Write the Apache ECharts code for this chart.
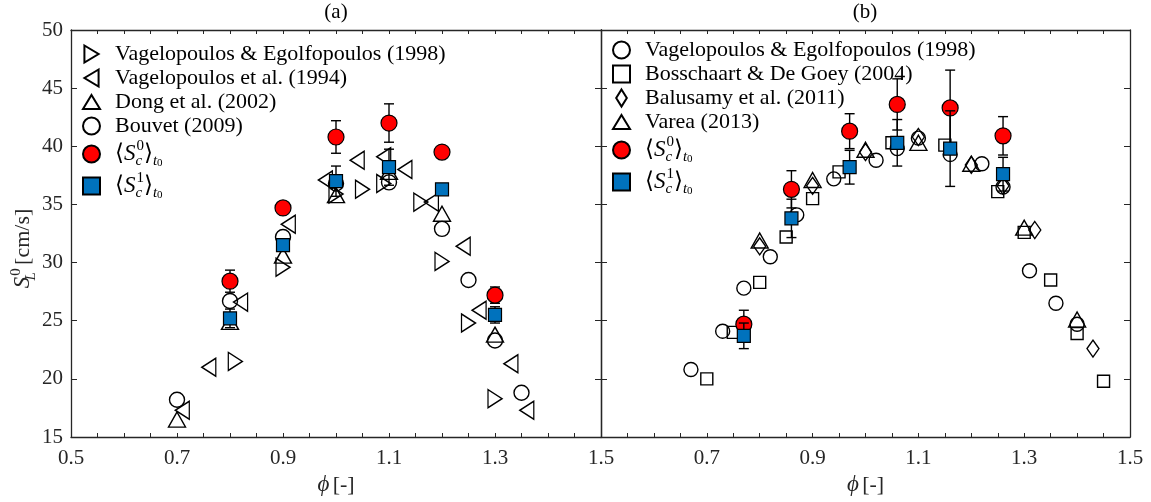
<!DOCTYPE html>
<html>
<head>
<meta charset="utf-8">
<script src="https://cdn.jsdelivr.net/npm/echarts@6/dist/echarts.min.js"></script>
<style>
html,body{margin:0;padding:0;background:#fff;}
#c{width:1151px;height:502px;}
</style>
</head>
<body>
<div id="c"></div>
<script>
// ---------- DATA ----------
const xTickLabels = ['0.5','0.7','0.9','1.1','1.3','1.5'];
const yTicks = [15,20,25,30,35,40,45,50];

// Panel (a)
const a_VE98 = [[0.81,21.5],[0.90,29.6],[1.00,35.9],[1.05,36.3],[1.09,36.8],[1.16,35.2],[1.20,30.1],[1.25,24.8],[1.30,18.3]];
const a_V94 = [[0.71,17.3],[0.76,21.0],[0.82,26.6],[0.91,33.3],[0.98,37.1],[1.04,38.8],[1.09,39.1],[1.13,38.0],[1.18,35.2],[1.24,31.4],[1.27,25.9],[1.33,21.3],[1.36,17.3]];
const a_Dong = [[0.70,16.5],[0.80,24.9],[0.90,30.6],[1.00,35.8],[1.10,37.8],[1.20,34.2],[1.30,23.8]];
const a_Bouvet = [[0.70,18.2],[0.80,26.7],[0.90,32.2],[1.00,36.8],[1.10,36.9],[1.20,32.9],[1.25,28.5],[1.30,23.3],[1.35,18.8]];
const a_S0 = [[0.8,28.4],[0.9,34.7],[1.0,40.8],[1.1,42.0],[1.2,39.5],[1.3,27.2]];
const a_S0err = [0.95,0.3,1.4,1.65,0.25,0.7];
const a_S1 = [[0.8,25.2],[0.9,31.5],[1.0,37.0],[1.1,38.2],[1.2,36.3],[1.3,25.5]];
const a_S1err = [0.8,0.3,1.3,1.55,0.2,0.7];

// Panel (b)
const b_VE98 = [[0.67,20.8],[0.73,24.1],[0.77,27.8],[0.82,30.5],[0.87,34.1],[0.94,37.2],[1.02,38.8],[1.06,39.8],[1.10,40.7],[1.16,39.3],[1.22,38.5],[1.26,36.5],[1.31,29.3],[1.36,26.5],[1.40,24.7]];
const b_BD = [[0.70,20.0],[0.75,24.0],[0.80,28.3],[0.85,32.2],[0.90,35.5],[0.95,37.8],[1.05,40.3],[1.15,40.1],[1.25,36.1],[1.30,32.6],[1.35,28.5],[1.40,23.9],[1.45,19.8]];
const b_Bal = [[0.80,31.4],[0.90,36.6],[1.00,39.5],[1.10,40.8],[1.20,38.4],[1.26,36.6],[1.32,32.8],[1.43,22.6]];
const b_Varea = [[0.80,31.9],[0.90,37.1],[1.00,39.7],[1.10,40.3],[1.20,38.5],[1.30,33.0],[1.40,25.1]];
const b_S0 = [[0.77,24.7],[0.86,36.3],[0.97,41.3],[1.06,43.6],[1.16,43.3],[1.26,40.9]];
const b_S0err = [1.2,1.6,1.5,2.2,3.25,1.65];
const b_S1 = [[0.77,23.7],[0.86,33.8],[0.97,38.2],[1.06,40.3],[1.16,39.8],[1.26,37.6]];
const b_S1err = [1.1,1.65,1.45,2.0,3.25,1.45];

const legendA = ['a_VE98','a_V94','a_Dong','a_Bouvet','a_S0','a_S1'];
const legendB = ['b_VE98','b_BD','b_Bal','b_Varea','b_S0','b_S1'];
const labels = {
  a_VE98:'Vagelopoulos & Egolfopoulos (1998)', a_V94:'Vagelopoulos et al. (1994)',
  a_Dong:'Dong et al. (2002)', a_Bouvet:'Bouvet (2009)',
  b_VE98:'Vagelopoulos & Egolfopoulos (1998)', b_BD:'Bosschaart & De Goey (2004)',
  b_Bal:'Balusamy et al. (2011)', b_Varea:'Varea (2013)'
};

// ---------- STYLE ----------
const FONT = '"Liberation Serif", "DejaVu Serif", serif';
const AX = '#262626';
const RIGHT_TRI = 'path://M0,0L10,6L0,12Z';
const LEFT_TRI = 'path://M10,0L0,6L10,12Z';
const UP_TRI = 'path://M6,0L12,10L0,10Z';
const DIAMOND = 'path://M5,0L10,8L5,16L0,8Z';
const hollow = {color:'rgba(0,0,0,0)', borderColor:'#000', borderWidth:1.4, opacity:1};

const mathRich = {
  n:{fontFamily:FONT,fontSize:22,color:'#000',padding:[0,0,0,10],lineHeight:25},
  n0:{fontFamily:FONT,fontSize:22,color:'#000',padding:[0,0,0,10],lineHeight:30},
  ang:{fontFamily:'"DejaVu Serif", serif',fontSize:23,color:'#000',lineHeight:30},
  it:{fontFamily:FONT,fontSize:23,fontStyle:'italic',color:'#000',lineHeight:30},
  sb:{fontFamily:FONT,fontSize:15,fontStyle:'italic',color:'#000',verticalAlign:'bottom',lineHeight:23,width:1},
  sp:{fontFamily:FONT,fontSize:15,color:'#000',verticalAlign:'top',lineHeight:30},
  tb:{fontFamily:FONT,fontSize:15,fontStyle:'italic',color:'#000',verticalAlign:'bottom',lineHeight:19},
  tb0:{fontFamily:FONT,fontSize:11,color:'#000',verticalAlign:'bottom',lineHeight:15}
};
function legendFmt(name){
  if (name.endsWith('S0')) return '{n0|}{ang|⟨}{it|S}{sb|c}{sp|0}{ang|⟩}{tb|t}{tb0|0}';
  if (name.endsWith('S1')) return '{n0|}{ang|⟨}{it|S}{sb|c}{sp|1}{ang|⟩}{tb|t}{tb0|0}';
  return '{n|' + labels[name] + '}';
}

function errRender(params, api){
  const x = api.value(0), lo = api.value(1), hi = api.value(2);
  const p1 = api.coord([x, lo]), p2 = api.coord([x, hi]);
  const w = 5, st = {stroke:'#000', lineWidth:1.4};
  return {type:'group', children:[
    {type:'line', shape:{x1:p1[0],y1:p1[1],x2:p2[0],y2:p2[1]}, style:st},
    {type:'line', shape:{x1:p1[0]-w,y1:p1[1],x2:p1[0]+w,y2:p1[1]}, style:st},
    {type:'line', shape:{x1:p2[0]-w,y1:p2[1],x2:p2[0]+w,y2:p2[1]}, style:st}
  ]};
}
function errData(pts, err){ return pts.map((d,i)=>[d[0], d[1]-err[i], d[1]+err[i]]); }

function xAxisDef(grid, pos, showLabels, hideFirst){
  return {
    type:'value', gridIndex:grid, position:pos, min:0.5, max:1.5, interval:0.05,
    axisLine:{show:true, onZero:false, lineStyle:{color:AX, width:1.3}},
    axisTick:{show:true, inside:true, length:4, lineStyle:{color:AX, width:1}},
    splitLine:{show:false},
    axisLabel:{show:showLabels, margin:11, color:AX, fontFamily:FONT, fontSize:21,
      formatter:function(v){
        const k = Math.round(v*100);
        if (k % 20 !== 10) return '';
        if (hideFirst && k === 50) return '';
        const s = (k/100).toFixed(1);
        return xTickLabels.indexOf(s) >= 0 ? s : '';
      }},
    name: showLabels ? '{it|ϕ} {n|[-]}' : '',
    nameLocation:'middle', nameGap:35,
    nameTextStyle:{rich:{it:{fontFamily:FONT,fontStyle:'italic',fontSize:23,color:AX},n:{fontFamily:FONT,fontSize:22,color:AX}}}
  };
}
function yAxisDef(grid, pos, showLabels){
  return {
    type:'value', gridIndex:grid, position:pos, min:15, max:50, interval:5,
    axisLine:{show:true, onZero:false, lineStyle:{color:AX, width:1.3}},
    axisTick:{show:true, inside:true, length:6, lineStyle:{color:AX, width:1}},
    splitLine:{show:false},
    axisLabel:{show:showLabels, margin:8, color:AX, fontFamily:FONT, fontSize:21,
      formatter:function(v){ return yTicks.indexOf(v) >= 0 ? String(v) : ''; }},
    name: showLabels ? '{it|S}{sb|L}{sp|0} {n|[cm/s]}' : '',
    nameLocation:'middle', nameGap:28, nameRotate:90,
    nameTextStyle:{padding:[0,30,0,0], rich:{
      it:{fontFamily:FONT,fontStyle:'italic',fontSize:23,color:AX,lineHeight:30},
      sb:{fontFamily:FONT,fontStyle:'italic',fontSize:15,color:AX,verticalAlign:'bottom',lineHeight:24,width:1},
      sp:{fontFamily:FONT,fontSize:15,color:AX,verticalAlign:'top',lineHeight:30},
      n:{fontFamily:FONT,fontSize:22,color:AX,lineHeight:30}}}
  };
}

function scatter(name, data, xi, symbol, size, style, z){
  return {name:name, type:'scatter', xAxisIndex:xi, yAxisIndex:xi, data:data,
    symbol:symbol, symbolSize:size, itemStyle:style, z:z, silent:true};
}
function errSeries(data, err, xi, z){
  return {type:'custom', xAxisIndex:xi, yAxisIndex:xi, renderItem:errRender,
    data:errData(data, err), encode:{x:0, y:[1,2]}, z:z, silent:true};
}
const redStyle = {color:'#ff0000', borderColor:'#000', borderWidth:1.2, opacity:1};
const blueStyle = {color:'#0072bd', borderColor:'#000', borderWidth:1.2, opacity:1};

const series = [
  scatter('a_VE98', a_VE98, 0, RIGHT_TRI, [14,18], hollow, 2),
  scatter('a_V94', a_V94, 0, LEFT_TRI, [14,18], hollow, 2),
  scatter('a_Dong', a_Dong, 0, UP_TRI, [17,15], hollow, 2),
  scatter('a_Bouvet', a_Bouvet, 0, 'circle', 15, hollow, 2),
  errSeries(a_S0, a_S0err, 0, 3),
  scatter('a_S0', a_S0, 0, 'circle', 16, redStyle, 4),
  errSeries(a_S1, a_S1err, 0, 5),
  scatter('a_S1', a_S1, 0, 'rect', 13, blueStyle, 6),

  scatter('b_VE98', b_VE98, 2, 'circle', 14, hollow, 2),
  scatter('b_BD', b_BD, 2, 'rect', 12, hollow, 2),
  scatter('b_Bal', b_Bal, 2, DIAMOND, [12,17], hollow, 2),
  scatter('b_Varea', b_Varea, 2, UP_TRI, [17,15], hollow, 2),
  errSeries(b_S0, b_S0err, 2, 3),
  scatter('b_S0', b_S0, 2, 'circle', 16, redStyle, 4),
  errSeries(b_S1, b_S1err, 2, 5),
  scatter('b_S1', b_S1, 2, 'rect', 13, blueStyle, 6)
];

const legendBase = {
  orient:'vertical', itemWidth:17, itemHeight:17, itemGap:2,
  selectedMode:false, formatter:legendFmt,
  textStyle:{rich:mathRich}
};

const option = {
  animation:false,
  backgroundColor:'#fff',
  grid:[
    {left:71, top:30, width:530, height:407},
    {left:601, top:30, width:529, height:407}
  ],
  xAxis:[
    xAxisDef(0,'bottom',true,false),
    xAxisDef(0,'top',false,false),
    xAxisDef(1,'bottom',true,true),
    xAxisDef(1,'top',false,false)
  ],
  yAxis:[
    yAxisDef(0,'left',true),
    yAxisDef(0,'right',false),
    yAxisDef(1,'left',false),
    yAxisDef(1,'right',false)
  ],
  legend:[
    Object.assign({left:77, top:38, data:legendA}, legendBase),
    Object.assign({left:607, top:34, data:legendB}, legendBase)
  ],
  graphic:[
    {type:'text', x:336, y:2, style:{text:'(a)', font:'21px "Liberation Serif"', textAlign:'center', fill:'#000'}},
    {type:'text', x:865, y:2, style:{text:'(b)', font:'21px "Liberation Serif"', textAlign:'center', fill:'#000'}}
  ],
  series:series
};
const chart = echarts.init(document.getElementById('c'), null, {renderer:'canvas'});
chart.setOption(option);
</script>
</body>
</html>
